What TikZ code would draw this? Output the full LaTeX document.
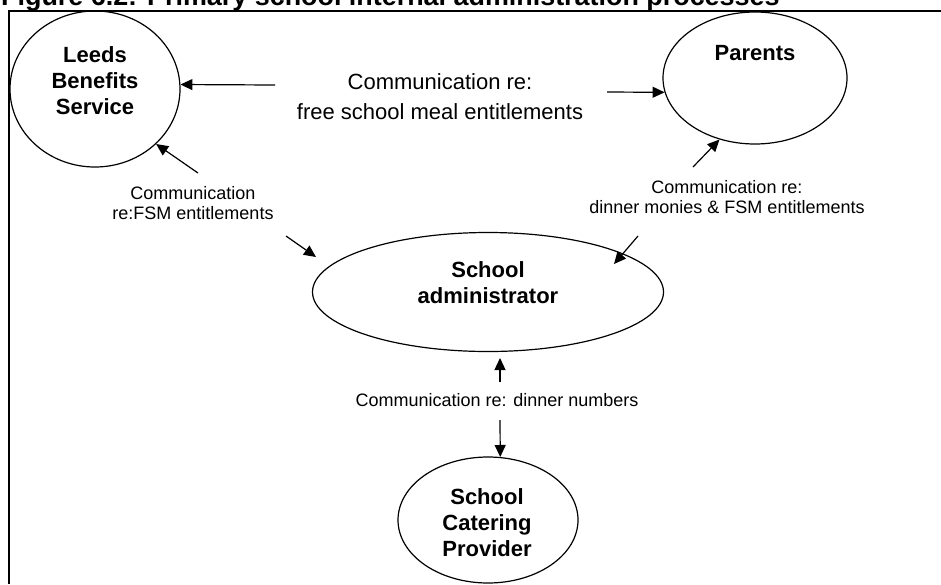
\documentclass[tikz,border=0pt]{standalone}
\usepackage{fontspec}
\setmainfont{Liberation Sans}
\usetikzlibrary{shapes.geometric,arrows.meta}

\begin{document}
\begin{tikzpicture}[x=1pt,y=-1pt,
  entity/.style={draw, ellipse, line width=1.2pt, inner sep=0pt},
  elabel/.style={font=\fontsize{22}{26}\selectfont\bfseries, align=center, inner sep=0pt},
  biglabel/.style={font=\fontsize{22}{30}\selectfont, align=center, inner sep=0pt},
  smalllabel/.style={font=\fontsize{18}{20.5}\selectfont, align=center, inner sep=0pt},
  flow/.style={line width=1.2pt, -{Triangle[length=12pt,width=11pt]}},
  frame/.style={line width=2pt}
]
\clip (0,0) rectangle (941,584);
\useasboundingbox (0,0) rectangle (941,584);

% heading (runs off the top edge of the page)
\node[anchor=base west, font=\fontsize{26.9}{30}\selectfont\bfseries, inner sep=0pt]
  (title) at (1,5) {Figure 6.2: Primary school internal administration processes};

% surrounding frame
\draw[frame] (9,584) -- (9,11) -- (941,11);

% entities
\node[entity, minimum width=170pt, minimum height=156pt] (leeds) at (95,89) {};
\node[entity, minimum width=184pt, minimum height=132pt] (parents) at (755,78) {};
\node[entity, minimum width=351pt, minimum height=119pt] (admin) at (488,292) {};
\node[entity, minimum width=180pt, minimum height=126pt] (catering) at (488,520) {};

\node[elabel] (leedsText) at (95,81) {Leeds\\Benefits\\Service};
\node[elabel, anchor=base] (parentsText) at (755,60) {Parents};
\node[elabel] (adminText) at (488,283) {School\\administrator};
\node[elabel] (cateringText) at (487,523) {School\\Catering\\Provider};

% flow labels
\node[biglabel] (fsmText) at (440,97) {Communication re:\\free school meal entitlements};
\node[smalllabel] (leedsFlow) at (193,203) {Communication\\re:FSM entitlements};
\node[smalllabel] (parentsFlow) at (727,197) {Communication re:\\dinner monies \& FSM entitlements};
\node[smalllabel] (dinnerFlow) at (497,400) {Communication re: dinner numbers};

% flows
\coordinate (a1s) at (275,85);
\draw[flow] (a1s) -- (leeds.3);
\coordinate (a2s) at (607,92);
\draw[flow] (a2s) -- (parents.189);
\coordinate (a4s) at (198,173);
\draw[flow] (a4s) -- (leeds.-42);
\coordinate (a6s) at (286,236);
\coordinate (a6e) at (316,257);
\draw[flow] (a6s) -- (a6e);
\coordinate (a7s) at (693,167);
\draw[flow] (a7s) -- (parents.-120);
\coordinate (a9s) at (638,236);
\coordinate (a9e) at (614,264);
\draw[flow] (a9s) -- (a9e);
\coordinate (a10s) at (500,382);
\coordinate (a10e) at (500,358);
\draw[flow] (a10s) -- (a10e);
\coordinate (a11s) at (500,420);
\draw[flow] (a11s) -- (catering.79);
\end{tikzpicture}
\end{document}
